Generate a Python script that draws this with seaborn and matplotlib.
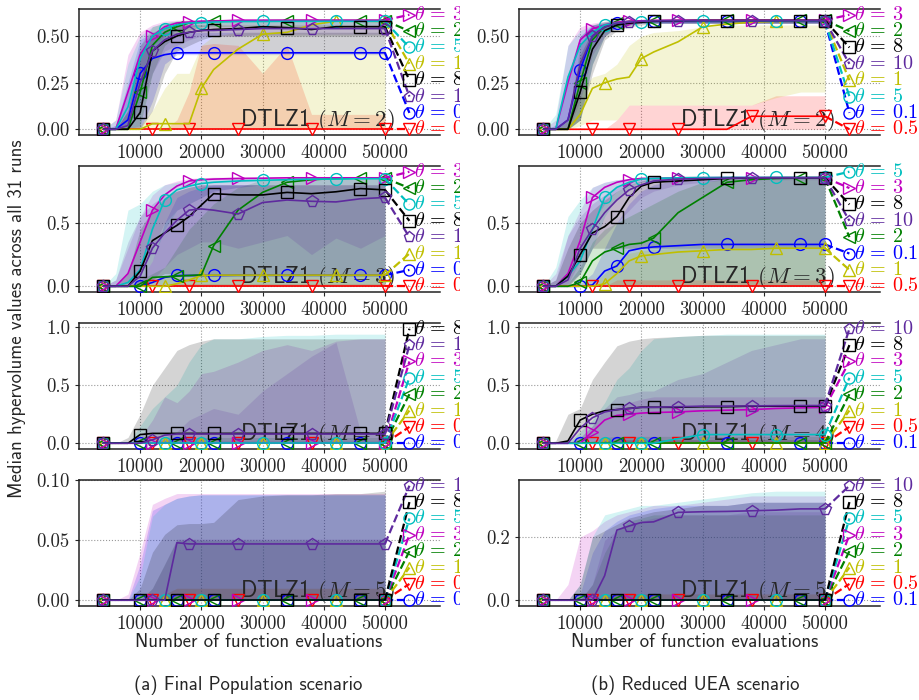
import matplotlib
matplotlib.use("Agg")
import matplotlib.pyplot as plt
import seaborn as sns
from matplotlib.transforms import Bbox, TransformedBbox

# --- checkpoints and settings ---
evals = [4000, 6000, 8000, 10000, 12000, 14000, 16000, 18000, 20000,
         22000, 26000, 30000, 34000, 38000, 42000, 46000, 50000]
thetas = ["0.1", "0.5", "1", "2", "3", "5", "8", "10"]
flat0 = [0] * 17

# --- Final Population, M=2 ---
fp2_med = [
    [0, 0, 0.05, 0.30, 0.38, 0.40, 0.41, 0.41, 0.41, 0.41, 0.41, 0.41, 0.41, 0.41, 0.41, 0.41, 0.41],
    flat0,
    [0, 0, 0, 0, 0.03, 0.03, 0.03, 0.03, 0.22, 0.32, 0.43, 0.51, 0.52, 0.56, 0.58, 0.58, 0.578],
    [0, 0, 0, 0.20, 0.45, 0.52, 0.55, 0.57, 0.575, 0.58, 0.58, 0.582, 0.583, 0.583, 0.583, 0.583, 0.583],
    [0, 0, 0.20, 0.40, 0.50, 0.55, 0.57, 0.575, 0.58, 0.58, 0.585, 0.585, 0.585, 0.585, 0.585, 0.585, 0.585],
    [0, 0, 0.12, 0.38, 0.50, 0.54, 0.56, 0.57, 0.572, 0.575, 0.578, 0.578, 0.579, 0.579, 0.579, 0.579, 0.579],
    [0, 0, 0, 0.09, 0.42, 0.47, 0.50, 0.52, 0.53, 0.535, 0.54, 0.55, 0.545, 0.535, 0.55, 0.55, 0.55],
    [0, 0, 0.02, 0.25, 0.42, 0.48, 0.51, 0.52, 0.53, 0.53, 0.535, 0.54, 0.54, 0.54, 0.54, 0.54, 0.54],
]
fp2_lo = [
    [0, 0, 0, 0, 0.15, 0.35, 0.40, 0.40, 0.40, 0.40, 0.40, 0.40, 0.40, 0.40, 0.40, 0.40, 0.40],
    flat0,
    flat0,
    [0, 0, 0, 0.02, 0.30, 0.45, 0.50, 0.53, 0.55, 0.55, 0.55, 0.55, 0.55, 0.55, 0.55, 0.55, 0.55],
    [0, 0, 0.02, 0.25, 0.45, 0.50, 0.53, 0.55, 0.56, 0.56, 0.56, 0.56, 0.56, 0.56, 0.56, 0.56, 0.56],
    [0, 0, 0, 0.15, 0.40, 0.50, 0.53, 0.55, 0.55, 0.56, 0.56, 0.56, 0.56, 0.56, 0.56, 0.56, 0.56],
    [0, 0, 0, 0, 0.10, 0.30, 0.42, 0.45, 0.48, 0.50, 0.50, 0.50, 0.50, 0.50, 0.50, 0.50, 0.50],
    [0, 0, 0, 0.10, 0.30, 0.42, 0.45, 0.48, 0.50, 0.50, 0.50, 0.51, 0.51, 0.51, 0.51, 0.51, 0.51],
]
fp2_hi = [
    [0, 0.02, 0.25, 0.48, 0.52, 0.52, 0.52, 0.52, 0.52, 0.52, 0.52, 0.52, 0.52, 0.52, 0.52, 0.52, 0.52],
    [0, 0, 0, 0, 0, 0, 0.05, 0.20, 0.45, 0.46, 0.45, 0.30, 0.45, 0.08, 0.08, 0.08, 0.08],
    [0, 0, 0, 0.02, 0.10, 0.22, 0.30, 0.30, 0.45, 0.50, 0.52, 0.52, 0.52, 0.52, 0.52, 0.52, 0.52],
    [0, 0, 0.10, 0.45, 0.55, 0.57, 0.58, 0.585, 0.585, 0.585, 0.585, 0.585, 0.585, 0.585, 0.585, 0.585, 0.585],
    [0, 0.05, 0.40, 0.52, 0.56, 0.58, 0.585, 0.585, 0.585, 0.585, 0.585, 0.585, 0.585, 0.585, 0.585, 0.585, 0.585],
    [0, 0.05, 0.35, 0.50, 0.55, 0.57, 0.58, 0.58, 0.58, 0.58, 0.58, 0.58, 0.58, 0.58, 0.58, 0.58, 0.58],
    [0, 0, 0.10, 0.40, 0.50, 0.55, 0.56, 0.56, 0.56, 0.56, 0.56, 0.56, 0.56, 0.56, 0.56, 0.56, 0.56],
    [0, 0.02, 0.20, 0.45, 0.52, 0.55, 0.56, 0.56, 0.56, 0.56, 0.56, 0.56, 0.56, 0.56, 0.56, 0.56, 0.56],
]
fp2_order = ["3", "2", "5", "1", "8", "10", "0.1", "0.5"]

# --- Reduced UEA, M=2 ---
ru2_med = [
    [0, 0, 0.05, 0.32, 0.50, 0.55, 0.57, 0.575, 0.578, 0.58, 0.58, 0.58, 0.58, 0.58, 0.58, 0.58, 0.58],
    [0, 0, 0, 0, 0, 0, 0, 0, 0, 0, 0, 0, 0, 0.07, 0.07, 0.07, 0.07],
    [0, 0, 0, 0.08, 0.22, 0.25, 0.27, 0.28, 0.38, 0.415, 0.47, 0.55, 0.565, 0.575, 0.58, 0.58, 0.582],
    [0, 0, 0, 0.25, 0.48, 0.55, 0.57, 0.58, 0.58, 0.583, 0.585, 0.585, 0.585, 0.585, 0.585, 0.585, 0.585],
    [0, 0, 0.25, 0.48, 0.54, 0.56, 0.575, 0.58, 0.583, 0.585, 0.586, 0.586, 0.586, 0.586, 0.586, 0.586, 0.586],
    [0, 0, 0.28, 0.45, 0.52, 0.56, 0.57, 0.575, 0.578, 0.58, 0.581, 0.581, 0.581, 0.581, 0.581, 0.581, 0.581],
    [0, 0, 0, 0.20, 0.43, 0.53, 0.56, 0.57, 0.575, 0.58, 0.582, 0.584, 0.584, 0.584, 0.584, 0.584, 0.584],
    [0, 0, 0.05, 0.35, 0.50, 0.55, 0.57, 0.575, 0.58, 0.582, 0.583, 0.583, 0.583, 0.583, 0.583, 0.583, 0.583],
]
ru2_lo = [
    [0, 0, 0, 0.05, 0.35, 0.50, 0.55, 0.56, 0.57, 0.57, 0.57, 0.57, 0.57, 0.57, 0.57, 0.57, 0.57],
    flat0,
    [0, 0, 0, 0.02, 0.05, 0.05, 0.05, 0.13, 0.13, 0.13, 0.13, 0.13, 0.13, 0.13, 0.17, 0.20, 0.20],
    [0, 0, 0, 0.05, 0.35, 0.50, 0.55, 0.56, 0.57, 0.57, 0.57, 0.57, 0.57, 0.57, 0.57, 0.57, 0.57],
    [0, 0, 0.05, 0.35, 0.48, 0.53, 0.56, 0.57, 0.57, 0.57, 0.57, 0.57, 0.57, 0.57, 0.57, 0.57, 0.57],
    [0, 0, 0.05, 0.30, 0.45, 0.52, 0.55, 0.56, 0.57, 0.57, 0.57, 0.57, 0.57, 0.57, 0.57, 0.57, 0.57],
    [0, 0, 0, 0.05, 0.30, 0.48, 0.53, 0.55, 0.56, 0.57, 0.57, 0.57, 0.57, 0.57, 0.57, 0.57, 0.57],
    [0, 0, 0, 0.15, 0.40, 0.50, 0.55, 0.56, 0.57, 0.57, 0.57, 0.57, 0.57, 0.57, 0.57, 0.57, 0.57],
]
ru2_hi = [
    [0, 0.02, 0.25, 0.50, 0.56, 0.57, 0.58, 0.585, 0.585, 0.585, 0.585, 0.585, 0.585, 0.585, 0.585, 0.585, 0.585],
    [0, 0, 0, 0, 0, 0, 0.05, 0.13, 0.13, 0.13, 0.13, 0.13, 0.13, 0.13, 0.18, 0.18, 0.18],
    [0, 0, 0, 0.20, 0.28, 0.30, 0.35, 0.45, 0.50, 0.52, 0.53, 0.55, 0.56, 0.56, 0.56, 0.56, 0.56],
    [0, 0, 0.05, 0.45, 0.56, 0.58, 0.585, 0.585, 0.585, 0.585, 0.585, 0.585, 0.585, 0.585, 0.585, 0.585, 0.585],
    [0, 0.05, 0.45, 0.55, 0.57, 0.58, 0.585, 0.585, 0.585, 0.585, 0.585, 0.585, 0.585, 0.585, 0.585, 0.585, 0.585],
    [0, 0.08, 0.45, 0.53, 0.56, 0.575, 0.585, 0.585, 0.585, 0.585, 0.585, 0.585, 0.585, 0.585, 0.585, 0.585, 0.585],
    [0, 0, 0.05, 0.40, 0.53, 0.57, 0.58, 0.585, 0.585, 0.585, 0.585, 0.585, 0.585, 0.585, 0.585, 0.585, 0.585],
    [0, 0.02, 0.30, 0.50, 0.56, 0.575, 0.585, 0.585, 0.585, 0.585, 0.585, 0.585, 0.585, 0.585, 0.585, 0.585, 0.585],
]
ru2_order = ["3", "2", "8", "10", "1", "5", "0.1", "0.5"]

# --- Final Population, M=3 ---
fp3_med = [
    [0, 0, 0, 0, 0.03, 0.07, 0.085, 0.085, 0.085, 0.085, 0.087, 0.087, 0.087, 0.087, 0.087, 0.087, 0.087],
    flat0,
    [0, 0, 0, 0, 0, 0, 0.02, 0.05, 0.085, 0.088, 0.088, 0.088, 0.088, 0.088, 0.088, 0.088, 0.088],
    [0, 0, 0, 0, 0.07, 0.075, 0.08, 0.085, 0.09, 0.32, 0.60, 0.74, 0.82, 0.84, 0.85, 0.853, 0.853],
    [0, 0, 0.10, 0.35, 0.60, 0.72, 0.79, 0.83, 0.84, 0.845, 0.85, 0.852, 0.855, 0.855, 0.855, 0.855, 0.855],
    [0, 0, 0.03, 0.13, 0.45, 0.68, 0.76, 0.79, 0.81, 0.82, 0.83, 0.835, 0.84, 0.845, 0.845, 0.848, 0.848],
    [0, 0, 0, 0.12, 0.36, 0.42, 0.48, 0.55, 0.64, 0.73, 0.72, 0.72, 0.74, 0.73, 0.745, 0.77, 0.76],
    [0, 0, 0, 0.08, 0.30, 0.42, 0.52, 0.60, 0.61, 0.60, 0.57, 0.66, 0.68, 0.67, 0.665, 0.69, 0.70],
]
fp3_lo = [
    flat0,
    flat0,
    flat0,
    flat0,
    [0, 0, 0, 0.10, 0.30, 0.50, 0.60, 0.65, 0.70, 0.75, 0.78, 0.80, 0.80, 0.80, 0.80, 0.80, 0.80],
    [0, 0, 0, 0.05, 0.20, 0.45, 0.60, 0.65, 0.70, 0.75, 0.78, 0.80, 0.80, 0.80, 0.80, 0.80, 0.80],
    [0, 0, 0, 0, 0.05, 0.10, 0.10, 0.08, 0.08, 0.08, 0.08, 0.08, 0.08, 0.08, 0.08, 0.08, 0.08],
    [0, 0, 0, 0, 0.05, 0.15, 0.25, 0.30, 0.35, 0.35, 0.30, 0.35, 0.40, 0.25, 0.38, 0.30, 0.40],
]
fp3_hi = [
    [0, 0, 0, 0.05, 0.20, 0.50, 0.70, 0.75, 0.78, 0.80, 0.80, 0.80, 0.80, 0.80, 0.80, 0.80, 0.80],
    [0, 0, 0, 0, 0, 0, 0.02, 0.02, 0.02, 0.02, 0.02, 0.02, 0.02, 0.02, 0.02, 0.02, 0.02],
    [0, 0, 0, 0, 0.05, 0.08, 0.09, 0.09, 0.10, 0.10, 0.10, 0.10, 0.10, 0.10, 0.10, 0.10, 0.10],
    [0, 0, 0, 0.05, 0.10, 0.15, 0.30, 0.45, 0.55, 0.65, 0.78, 0.84, 0.85, 0.86, 0.86, 0.86, 0.86],
    [0, 0.05, 0.30, 0.55, 0.72, 0.80, 0.83, 0.85, 0.855, 0.86, 0.86, 0.86, 0.86, 0.86, 0.86, 0.86, 0.86],
    [0, 0.10, 0.60, 0.65, 0.75, 0.80, 0.82, 0.83, 0.84, 0.85, 0.85, 0.85, 0.85, 0.85, 0.85, 0.85, 0.85],
    [0, 0, 0.10, 0.45, 0.60, 0.70, 0.75, 0.78, 0.80, 0.80, 0.80, 0.80, 0.80, 0.80, 0.80, 0.80, 0.80],
    [0, 0.05, 0.35, 0.55, 0.65, 0.72, 0.75, 0.78, 0.80, 0.80, 0.80, 0.80, 0.80, 0.80, 0.80, 0.80, 0.80],
]
fp3_order = ["3", "2", "5", "8", "10", "1", "0.1", "0.5"]

# --- Reduced UEA, M=3 ---
ru3_med = [
    [0, 0, 0, 0, 0.01, 0.12, 0.16, 0.28, 0.30, 0.31, 0.32, 0.33, 0.33, 0.33, 0.33, 0.33, 0.33],
    flat0,
    [0, 0, 0, 0, 0, 0.02, 0.10, 0.20, 0.24, 0.25, 0.27, 0.28, 0.29, 0.29, 0.30, 0.30, 0.30],
    [0, 0, 0, 0.03, 0.20, 0.27, 0.30, 0.33, 0.34, 0.38, 0.58, 0.70, 0.82, 0.84, 0.85, 0.853, 0.853],
    [0, 0, 0.10, 0.36, 0.70, 0.78, 0.82, 0.84, 0.85, 0.85, 0.855, 0.856, 0.857, 0.857, 0.857, 0.857, 0.857],
    [0, 0, 0.08, 0.20, 0.45, 0.70, 0.78, 0.82, 0.845, 0.85, 0.855, 0.857, 0.858, 0.858, 0.858, 0.858, 0.858],
    [0, 0, 0.08, 0.25, 0.42, 0.47, 0.55, 0.70, 0.79, 0.82, 0.83, 0.84, 0.85, 0.855, 0.856, 0.856, 0.856],
    [0, 0, 0.05, 0.30, 0.45, 0.58, 0.68, 0.76, 0.80, 0.83, 0.845, 0.85, 0.852, 0.855, 0.855, 0.855, 0.855],
]
ru3_lo = [
    flat0,
    flat0,
    flat0,
    flat0,
    [0, 0, 0.02, 0.20, 0.50, 0.65, 0.75, 0.80, 0.82, 0.83, 0.84, 0.85, 0.85, 0.85, 0.85, 0.85, 0.85],
    [0, 0, 0.02, 0.10, 0.30, 0.55, 0.70, 0.78, 0.82, 0.84, 0.84, 0.85, 0.85, 0.85, 0.85, 0.85, 0.85],
    [0, 0, 0, 0.10, 0.30, 0.30, 0.30, 0.30, 0.30, 0.30, 0.30, 0.30, 0.30, 0.30, 0.30, 0.30, 0.30],
    [0, 0, 0, 0.10, 0.30, 0.40, 0.50, 0.60, 0.70, 0.75, 0.80, 0.82, 0.84, 0.84, 0.84, 0.84, 0.84],
]
ru3_hi = [
    [0, 0, 0, 0.02, 0.10, 0.30, 0.50, 0.65, 0.75, 0.80, 0.84, 0.85, 0.85, 0.85, 0.85, 0.85, 0.85],
    [0, 0, 0, 0, 0, 0, 0.05, 0.05, 0.05, 0.05, 0.05, 0.05, 0.05, 0.05, 0.05, 0.05, 0.05],
    [0, 0, 0, 0, 0.02, 0.10, 0.20, 0.26, 0.28, 0.29, 0.30, 0.30, 0.30, 0.30, 0.30, 0.30, 0.30],
    [0, 0, 0.02, 0.15, 0.35, 0.45, 0.50, 0.55, 0.60, 0.65, 0.75, 0.82, 0.85, 0.86, 0.86, 0.86, 0.86],
    [0, 0.10, 0.40, 0.60, 0.78, 0.82, 0.84, 0.85, 0.86, 0.86, 0.86, 0.86, 0.86, 0.86, 0.86, 0.86, 0.86],
    [0, 0.15, 0.55, 0.68, 0.78, 0.82, 0.84, 0.85, 0.86, 0.86, 0.86, 0.86, 0.86, 0.86, 0.86, 0.86, 0.86],
    [0, 0.05, 0.30, 0.50, 0.60, 0.68, 0.75, 0.80, 0.83, 0.85, 0.86, 0.86, 0.86, 0.86, 0.86, 0.86, 0.86],
    [0, 0.05, 0.40, 0.55, 0.65, 0.72, 0.78, 0.82, 0.84, 0.85, 0.86, 0.86, 0.86, 0.86, 0.86, 0.86, 0.86],
]
ru3_order = ["5", "3", "8", "10", "2", "0.1", "1", "0.5"]

# --- Final Population, M=4 ---
fp4_med = [
    flat0, flat0, flat0, flat0, flat0, flat0,
    [0, 0, 0, 0.075, 0.085, 0.085, 0.085, 0.085, 0.085, 0.085, 0.085, 0.085, 0.085, 0.085, 0.085, 0.085, 0.085],
    [0, 0, 0, 0, 0.03, 0.07, 0.08, 0.08, 0.08, 0.08, 0.08, 0.08, 0.08, 0.08, 0.08, 0.08, 0.08],
]
fp4_lo = [flat0, flat0, flat0, flat0, flat0, flat0, flat0, flat0]
fp4_hi = [
    [0, 0, 0, 0, 0.01, 0.02, 0.02, 0.02, 0.02, 0.02, 0.02, 0.02, 0.02, 0.02, 0.02, 0.02, 0.02],
    [0, 0, 0, 0, 0, 0.01, 0.01, 0.01, 0.01, 0.01, 0.01, 0.01, 0.01, 0.01, 0.01, 0.01, 0.01],
    [0, 0, 0, 0, 0, 0.01, 0.01, 0.01, 0.01, 0.01, 0.01, 0.01, 0.01, 0.01, 0.01, 0.01, 0.01],
    [0, 0, 0, 0, 0.02, 0.03, 0.05, 0.05, 0.05, 0.05, 0.05, 0.05, 0.05, 0.05, 0.05, 0.05, 0.05],
    [0, 0, 0, 0.05, 0.20, 0.40, 0.35, 0.45, 0.60, 0.62, 0.70, 0.80, 0.85, 0.80, 0.88, 0.90, 0.90],
    [0, 0, 0, 0.15, 0.30, 0.40, 0.50, 0.70, 0.85, 0.90, 0.90, 0.92, 0.93, 0.93, 0.94, 0.94, 0.94],
    [0, 0, 0.05, 0.25, 0.50, 0.65, 0.80, 0.85, 0.88, 0.90, 0.90, 0.90, 0.90, 0.90, 0.90, 0.90, 0.90],
    [0, 0, 0, 0, 0, 0.05, 0.10, 0.20, 0.25, 0.30, 0.25, 0.45, 0.60, 0.75, 0.87, 0.10, 0.10],
]
fp4_order = ["8", "10", "3", "5", "2", "1", "0.5", "0.1"]

# --- Reduced UEA, M=4 ---
ru4_med = [
    flat0, flat0, flat0, flat0,
    [0, 0, 0, 0, 0.10, 0.20, 0.24, 0.25, 0.26, 0.265, 0.27, 0.28, 0.285, 0.29, 0.30, 0.305, 0.31],
    [0, 0, 0, 0, 0, 0, 0, 0, 0, 0, 0.04, 0.075, 0.075, 0.075, 0.075, 0.075, 0.075],
    [0, 0, 0.02, 0.20, 0.25, 0.28, 0.29, 0.30, 0.31, 0.31, 0.31, 0.315, 0.315, 0.32, 0.32, 0.32, 0.32],
    [0, 0, 0, 0.13, 0.22, 0.27, 0.29, 0.30, 0.31, 0.31, 0.315, 0.32, 0.32, 0.322, 0.324, 0.325, 0.325],
]
ru4_lo = [flat0, flat0, flat0, flat0, flat0, flat0, flat0, flat0]
ru4_hi = [
    [0, 0, 0, 0, 0.01, 0.02, 0.03, 0.03, 0.03, 0.03, 0.03, 0.03, 0.03, 0.03, 0.03, 0.03, 0.03],
    [0, 0, 0, 0, 0.01, 0.02, 0.03, 0.03, 0.03, 0.03, 0.03, 0.03, 0.03, 0.03, 0.03, 0.03, 0.03],
    [0, 0, 0, 0, 0.01, 0.02, 0.03, 0.03, 0.03, 0.03, 0.03, 0.03, 0.03, 0.03, 0.03, 0.03, 0.03],
    [0, 0, 0, 0, 0.02, 0.05, 0.06, 0.06, 0.06, 0.06, 0.06, 0.06, 0.06, 0.06, 0.06, 0.06, 0.06],
    [0, 0, 0, 0.05, 0.15, 0.30, 0.32, 0.35, 0.38, 0.40, 0.40, 0.40, 0.40, 0.40, 0.40, 0.40, 0.40],
    [0, 0, 0, 0.10, 0.20, 0.35, 0.55, 0.65, 0.80, 0.90, 0.92, 0.93, 0.94, 0.94, 0.94, 0.94, 0.94],
    [0, 0.02, 0.25, 0.30, 0.55, 0.70, 0.84, 0.88, 0.90, 0.91, 0.92, 0.93, 0.93, 0.93, 0.93, 0.93, 0.93],
    [0, 0, 0, 0.05, 0.15, 0.30, 0.40, 0.42, 0.45, 0.45, 0.55, 0.60, 0.70, 0.80, 0.85, 0.90, 0.90],
]
ru4_order = ["10", "8", "3", "5", "2", "1", "0.5", "0.1"]

# --- Final Population, M=5 ---
fp5_med = [
    flat0, flat0, flat0, flat0, flat0, flat0, flat0,
    [0, 0, 0, 0, 0, 0, 0.048, 0.047, 0.047, 0.047, 0.047, 0.047, 0.047, 0.047, 0.047, 0.047, 0.047],
]
fp5_lo = [flat0, flat0, flat0, flat0, flat0, flat0, flat0, flat0]
fp5_hi = [
    [0, 0, 0, 0.03, 0.075, 0.08, 0.085, 0.087, 0.088, 0.088, 0.088, 0.088, 0.088, 0.088, 0.088, 0.088, 0.088],
    [0, 0, 0, 0, 0, 0.005, 0.01, 0.01, 0.01, 0.01, 0.01, 0.01, 0.01, 0.01, 0.01, 0.01, 0.01],
    [0, 0, 0, 0, 0, 0.005, 0.01, 0.01, 0.01, 0.01, 0.01, 0.01, 0.01, 0.01, 0.01, 0.01, 0.01],
    [0, 0, 0, 0, 0.01, 0.03, 0.05, 0.05, 0.05, 0.05, 0.05, 0.05, 0.05, 0.05, 0.05, 0.05, 0.05],
    [0, 0, 0.005, 0.04, 0.08, 0.085, 0.089, 0.089, 0.089, 0.089, 0.089, 0.089, 0.089, 0.089, 0.089, 0.089, 0.089],
    [0, 0, 0, 0.02, 0.07, 0.08, 0.085, 0.087, 0.088, 0.088, 0.088, 0.088, 0.088, 0.088, 0.088, 0.088, 0.088],
    [0, 0, 0, 0.01, 0.04, 0.055, 0.063, 0.064, 0.064, 0.065, 0.084, 0.087, 0.088, 0.088, 0.089, 0.089, 0.091],
    [0, 0, 0, 0, 0.01, 0.03, 0.051, 0.051, 0.051, 0.051, 0.051, 0.051, 0.051, 0.051, 0.051, 0.051, 0.051],
]
fp5_order = ["10", "8", "5", "3", "2", "1", "0.5", "0.1"]

# --- Reduced UEA, M=5 ---
ru5_med = [
    flat0, flat0, flat0, flat0, flat0, flat0, flat0,
    [0, 0, 0, 0, 0, 0.078, 0.222, 0.235, 0.246, 0.248, 0.278, 0.28, 0.281, 0.283, 0.285, 0.289, 0.289],
]
ru5_lo = [flat0, flat0, flat0, flat0, flat0, flat0, flat0, flat0]
ru5_hi = [
    [0, 0, 0, 0.02, 0.15, 0.22, 0.25, 0.27, 0.28, 0.29, 0.30, 0.30, 0.30, 0.31, 0.31, 0.31, 0.31],
    [0, 0, 0, 0, 0, 0.01, 0.02, 0.02, 0.02, 0.02, 0.02, 0.02, 0.02, 0.02, 0.02, 0.02, 0.02],
    [0, 0, 0, 0, 0, 0.01, 0.02, 0.02, 0.02, 0.02, 0.02, 0.02, 0.02, 0.02, 0.02, 0.02, 0.02],
    [0, 0, 0, 0, 0.05, 0.15, 0.22, 0.25, 0.26, 0.27, 0.27, 0.27, 0.27, 0.27, 0.27, 0.27, 0.27],
    [0, 0, 0.05, 0.20, 0.22, 0.25, 0.27, 0.28, 0.29, 0.30, 0.30, 0.31, 0.32, 0.33, 0.33, 0.33, 0.33],
    [0, 0, 0, 0.05, 0.20, 0.27, 0.28, 0.29, 0.30, 0.30, 0.31, 0.32, 0.33, 0.34, 0.345, 0.345, 0.345],
    [0, 0, 0, 0.05, 0.20, 0.22, 0.24, 0.26, 0.27, 0.28, 0.29, 0.30, 0.30, 0.31, 0.31, 0.31, 0.31],
    [0, 0, 0, 0, 0.05, 0.19, 0.22, 0.24, 0.25, 0.26, 0.27, 0.27, 0.27, 0.28, 0.28, 0.28, 0.28],
]
ru5_order = ["10", "8", "5", "3", "2", "1", "0.5", "0.1"]

colors = ["#0000ff", "#ff0000", "#bfbf00", "#008000", "#bf00bf", "#00bfbf", "#000000", "#5e2a9e"]
markers = ["o", "v", "^", "<", ">", "o", "s", "p"]

sns.set_style("ticks")
plt.rcParams["font.family"] = ["cmss10", "DejaVu Sans"]
plt.rcParams["mathtext.fontset"] = "cm"
plt.rcParams["axes.unicode_minus"] = False

fig = plt.figure(figsize=(9.2, 7), dpi=100)
left_clip = TransformedBbox(Bbox([[0, 0], [0.5, 1]]), fig.transFigure)
full_clip = TransformedBbox(Bbox([[0, 0], [1, 1]]), fig.transFigure)


def draw_panel(ax, med, lo, hi, order, m, yticks, clip):
    for i in range(len(thetas)):
        ax.fill_between(evals, lo[i], hi[i], color=colors[i], alpha=0.17, lw=0, zorder=1)

    top = 1.05 * max(max(max(r) for r in hi), max(max(r) for r in med))
    n = len(order)
    label_y = [top - k * top / (n - 1) for k in range(n)]

    for i, th in enumerate(thetas):
        start = 3 + (i % 3)
        marks = [0] + list(range(start, 16, 3)) + [16]
        sns.lineplot(x=evals, y=med[i], ax=ax, color=colors[i], lw=1.2,
                     marker=markers[i], markevery=marks, ms=8.5, mfc="none",
                     mec=colors[i], mew=1.0, errorbar=None, zorder=3)
        ly = label_y[order.index(th)]
        ax.plot([50000, 54000], [med[i][-1], ly], ls="--", color=colors[i],
                lw=1.6, zorder=3)
        ax.plot([54000], [ly], marker=markers[i], ms=8, mfc="none",
                mec=colors[i], mew=1.0, zorder=4)
        t = ax.text(54700, ly, rf"$\theta\,=\,{th}$", color=colors[i],
                    fontsize=14.5, va="center", ha="left", zorder=4)
        t.set_clip_on(True)
        t.set_clip_box(clip)

    ax.text(0.875, 0.005, rf"DTLZ1 $(M=%d)$" % m, transform=ax.transAxes,
            ha="right", va="bottom", fontsize=16.5, zorder=2)

    ax.set_xlim(0, 59000)
    ax.set_ylim(-0.05 * top, 1.05 * top)
    ax.set_xticks([10000, 20000, 30000, 40000, 50000])
    ax.set_yticks(yticks)
    ax.grid(True, ls=":", color="#999999", lw=0.8)
    ax.set_axisbelow(True)
    ax.tick_params(labelfontfamily="cmr10", labelsize=13.5, length=3)
    ax.spines["right"].set_visible(False)
    for s in ["left", "top", "bottom"]:
        ax.spines[s].set_color("#222222")
        ax.spines[s].set_linewidth(1.1)
    ax.set_xlabel("")
    ax.set_ylabel("")


fp_panels = [
    (fp2_med, fp2_lo, fp2_hi, fp2_order, 2, [0, 0.25, 0.5]),
    (fp3_med, fp3_lo, fp3_hi, fp3_order, 3, [0, 0.5]),
    (fp4_med, fp4_lo, fp4_hi, fp4_order, 4, [0, 0.5, 1.0]),
    (fp5_med, fp5_lo, fp5_hi, fp5_order, 5, [0, 0.05, 0.10]),
]
ru_panels = [
    (ru2_med, ru2_lo, ru2_hi, ru2_order, 2, [0, 0.25, 0.5]),
    (ru3_med, ru3_lo, ru3_hi, ru3_order, 3, [0, 0.5]),
    (ru4_med, ru4_lo, ru4_hi, ru4_order, 4, [0, 0.5, 1.0]),
    (ru5_med, ru5_lo, ru5_hi, ru5_order, 5, [0, 0.2]),
]

row_bottoms = [1 - 135 / 700, 1 - 292 / 700, 1 - 449 / 700, 1 - 606 / 700]
ax_h = 126 / 700
ax_w = 361 / 920
for r in range(4):
    ax_l = fig.add_axes([79 / 920, row_bottoms[r], ax_w, ax_h])
    draw_panel(ax_l, *fp_panels[r], clip=left_clip)
    ax_r = fig.add_axes([519 / 920, row_bottoms[r], ax_w, ax_h])
    draw_panel(ax_r, *ru_panels[r], clip=full_clip)

fig.text(0.018, 0.545, "Median hypervolume values across all 31 runs",
         rotation=90, ha="center", va="center", fontsize=13.5)
fig.text(259 / 920, 1 - 642 / 700, "Number of function evaluations",
         ha="center", va="center", fontsize=13.5)
fig.text(695 / 920, 1 - 642 / 700, "Number of function evaluations",
         ha="center", va="center", fontsize=13.5)
fig.text(248 / 920, 1 - 685 / 700, "(a) Final Population scenario",
         ha="center", va="center", fontsize=13.5)
fig.text(695 / 920, 1 - 685 / 700, "(b) Reduced UEA scenario",
         ha="center", va="center", fontsize=13.5)

fig.savefig("out.png", dpi=100)
